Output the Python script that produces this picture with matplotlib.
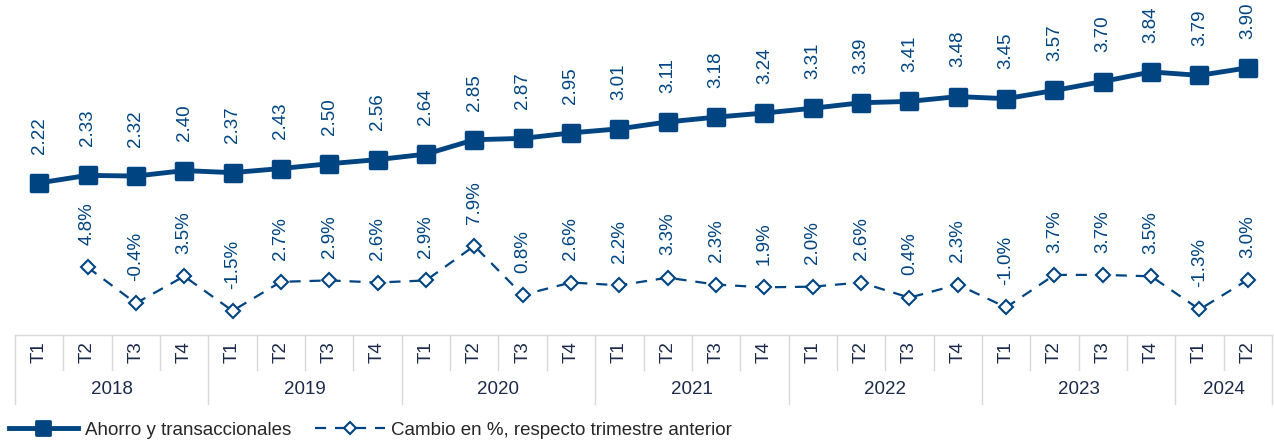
import numpy as np
import matplotlib.pyplot as plt
from matplotlib.lines import Line2D
from matplotlib.markers import MarkerStyle

plt.rcParams['font.family'] = ['Liberation Sans', 'DejaVu Sans']

years = ['2018', '2019', '2020', '2021', '2022', '2023', '2024']
quarters = ['T1', 'T2', 'T3', 'T4'] * 6 + ['T1', 'T2']
ahorro = [2.22, 2.33, 2.32, 2.40, 2.37, 2.43, 2.50, 2.56, 2.64, 2.85, 2.87, 2.95, 3.01,
          3.11, 3.18, 3.24, 3.31, 3.39, 3.41, 3.48, 3.45, 3.57, 3.70, 3.84, 3.79, 3.90]
cambio = [np.nan, 4.8, -0.4, 3.5, -1.5, 2.7, 2.9, 2.6, 2.9, 7.9, 0.8, 2.6, 2.2,
          3.3, 2.3, 1.9, 2.0, 2.6, 0.4, 2.3, -1.0, 3.7, 3.7, 3.5, -1.3, 3.0]

blue = '#004481'
navy = '#1b2a4a'
grid = '#d9d9d9'
fs = 13.5

W, H = 1274, 441
fig = plt.figure(figsize=(W / 100, H / 100), dpi=100)
ax_bottom = 335
ax = fig.add_axes([15 / W, (H - ax_bottom) / H, (1272 - 15) / W, ax_bottom / H])
ax2 = ax.twinx()

sq = MarkerStyle('s', joinstyle='round')
x = np.arange(len(ahorro))
ax.plot(x, ahorro, color=blue, lw=3.5, marker=sq, ms=11.5, mec=blue, mfc=blue, mew=2.5,
        solid_joinstyle='round', zorder=3)
ax2.plot(x, cambio, color=blue, lw=1.6, ls=(0, (5, 4)), marker='D', ms=7,
         mfc='white', mec=blue, mew=1.5, zorder=3)

ax.set_ylim(0, 4.89)
ax2.set_ylim(-5, 43.5)
ax.set_xlim(-0.5, len(ahorro) - 0.5)

for xi, v in zip(x, ahorro):
    ax.annotate(f'{v:.2f}', (xi, v), xytext=(0, 21), textcoords='offset points',
                rotation=90, ha='center', va='bottom', fontsize=fs, color=blue)
for xi, v in zip(x, cambio):
    if np.isnan(v):
        continue
    ax2.annotate(f'{v:.1f}%', (xi, v), xytext=(0, 16), textcoords='offset points',
                 rotation=90, ha='center', va='bottom', fontsize=fs, color=blue)

for a in (ax, ax2):
    a.set_yticks([])
    a.set_xticks([])
    for s in a.spines.values():
        s.set_visible(False)

# two-level category axis
tr = ax.get_xaxis_transform()
q_bot = -35 / ax_bottom
y_bot = -69 / ax_bottom
ax.plot([-0.5, len(x) - 0.5], [0, 0], color=grid, lw=1, transform=tr, clip_on=False)
for i in range(len(x) + 1):
    b = i - 0.5
    end = y_bot if (i % 4 == 0 or i == len(x)) else q_bot
    ax.plot([b, b], [0, end], color=grid, lw=1, transform=tr, clip_on=False)
for xi, q in zip(x, quarters):
    ax.text(xi, -17 / ax_bottom, q, rotation=90, ha='center', va='center',
            fontsize=fs, color=navy, transform=tr)
for j, yr in enumerate(years):
    start = j * 4
    stop = min(start + 4, len(x))
    ax.text((start + stop - 1) / 2, -54 / ax_bottom, yr, ha='center', va='center',
            fontsize=fs, color=navy, transform=tr)

handles = [
    Line2D([], [], color=blue, lw=3.5, marker=sq, ms=10, mfc=blue, mec=blue, mew=2),
    Line2D([], [], color=blue, lw=1.6, ls=(0, (5, 4)), marker='D', ms=6,
           mfc='white', mec=blue, mew=1.5),
]
fig.legend(handles, ['Ahorro y transaccionales', 'Cambio en %, respecto trimestre anterior'],
           loc='lower left', bbox_to_anchor=(-0.002, -0.02), ncol=2, frameon=False,
           fontsize=fs, handlelength=3.7, handletextpad=0.35, columnspacing=1.3,
           labelcolor='#262626', borderaxespad=0.2)

fig.savefig('out.png', dpi=100)
